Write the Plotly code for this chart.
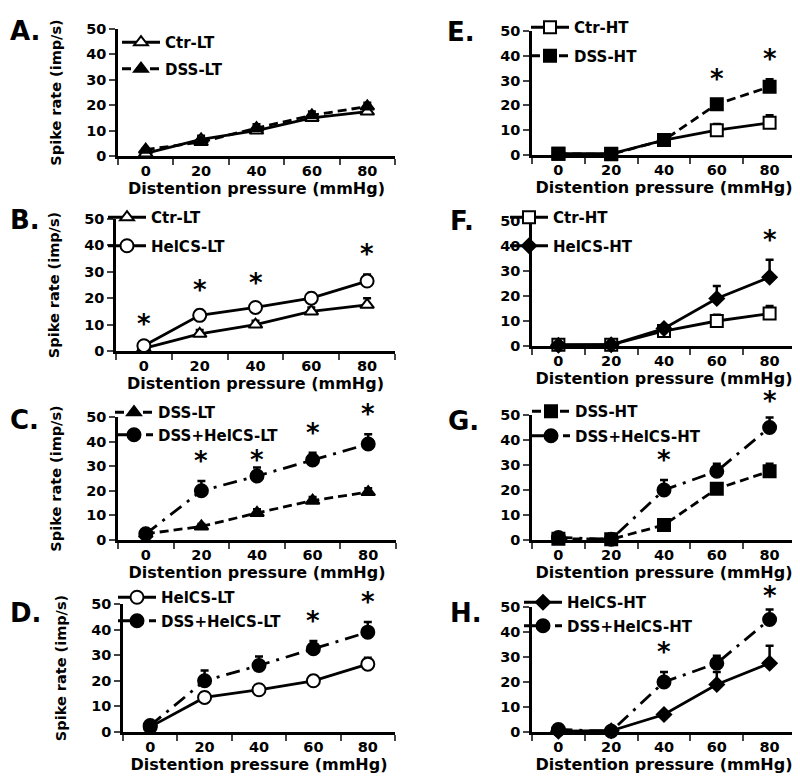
import plotly.graph_objects as go

# ---------------- data ----------------
pressure = ["0", "20", "40", "60", "80"]

ctr_lt = [1.0, 6.5, 10.0, 15.0, 17.5]
ctr_lt_err = [0.5, 1.5, 1.5, 1.5, 2.5]
dss_lt = [2.5, 5.5, 11.0, 16.0, 19.5]
dss_lt_err = [0.5, 1.0, 1.5, 1.5, 1.5]
helcs_lt = [2.0, 13.5, 16.5, 20.0, 26.5]
helcs_lt_err = [0.5, 2.0, 1.5, 2.0, 2.5]
dss_helcs_lt = [2.5, 20.0, 26.0, 32.5, 39.0]
dss_helcs_lt_err = [0.5, 4.0, 3.5, 3.0, 4.0]

ctr_ht = [0.5, 0.5, 6.0, 10.0, 13.0]
ctr_ht_err = [0.3, 0.3, 0.8, 2.5, 3.0]
dss_ht = [0.5, 0.3, 6.0, 20.5, 27.5]
dss_ht_err = [0.3, 0.3, 0.8, 2.0, 3.0]
helcs_ht = [0.3, 0.5, 7.0, 19.0, 27.5]
helcs_ht_err = [0.3, 0.3, 1.0, 5.0, 7.0]
dss_helcs_ht = [1.0, 0.3, 20.0, 27.5, 45.0]
dss_helcs_ht_err = [0.3, 0.3, 4.0, 3.0, 4.0]

y_ticks = [0, 10, 20, 30, 40, 50]

series = {
    "Ctr-LT": (ctr_lt, ctr_lt_err),
    "DSS-LT": (dss_lt, dss_lt_err),
    "HelCS-LT": (helcs_lt, helcs_lt_err),
    "DSS+HelCS-LT": (dss_helcs_lt, dss_helcs_lt_err),
    "Ctr-HT": (ctr_ht, ctr_ht_err),
    "DSS-HT": (dss_ht, dss_ht_err),
    "HelCS-HT": (helcs_ht, helcs_ht_err),
    "DSS+HelCS-HT": (dss_helcs_ht, dss_helcs_ht_err),
}

# panel: label, series pair, series carrying significance stars, star indices
panels = [
    ("A.", ["Ctr-LT", "DSS-LT"], None, []),
    ("B.", ["Ctr-LT", "HelCS-LT"], "HelCS-LT", [0, 1, 2, 4]),
    ("C.", ["DSS-LT", "DSS+HelCS-LT"], "DSS+HelCS-LT", [1, 2, 3, 4]),
    ("D.", ["HelCS-LT", "DSS+HelCS-LT"], "DSS+HelCS-LT", [3, 4]),
    ("E.", ["Ctr-HT", "DSS-HT"], "DSS-HT", [3, 4]),
    ("F.", ["Ctr-HT", "HelCS-HT"], "HelCS-HT", [4]),
    ("G.", ["DSS-HT", "DSS+HelCS-HT"], "DSS+HelCS-HT", [2, 4]),
    ("H.", ["HelCS-HT", "DSS+HelCS-HT"], "DSS+HelCS-HT", [2, 4]),
]

# ---------------- styling ----------------
W, H = 800, 780
FONT = "DejaVu Sans, Arial, sans-serif"

style = {
    "Ctr-LT": dict(symbol="triangle-up", fill="white", dash="solid", size=12),
    "DSS-LT": dict(symbol="triangle-up", fill="black", dash="9px,5px", size=12),
    "HelCS-LT": dict(symbol="circle", fill="white", dash="solid", size=13),
    "DSS+HelCS-LT": dict(symbol="circle", fill="black", dash="14px,7px,3px,7px", size=13),
    "Ctr-HT": dict(symbol="square", fill="white", dash="solid", size=12),
    "DSS-HT": dict(symbol="square", fill="black", dash="9px,5px", size=12),
    "HelCS-HT": dict(symbol="diamond", fill="black", dash="solid", size=11),
    "DSS+HelCS-HT": dict(symbol="circle", fill="black", dash="14px,7px,3px,7px", size=13),
}

# pixel geometry (axis left, axis right, y of 0, y of 50)
geom = [
    (110, 387, 148, 21),
    (108, 387, 343, 211),
    (110, 388, 532, 409),
    (115, 387, 724, 596),
    (524, 788, 147, 23),
    (524, 788, 338, 213),
    (524, 788, 532, 407),
    (524, 788, 724, 599),
]
# legend top-left (px), legend row gap, panel label position (px)
legend_pos = [
    (109, 18), (95, 193), (102, 388), (105, 573),
    (518, 3), (497, 193), (519, 387), (511, 578),
]
legend_gap = [4, 6, 0, 1, 6, 6, 2, 1]
label_pos = [
    (0, 23), (0, 212), (0, 412), (0, 605),
    (437, 24), (440, 213), (438, 413), (440, 605),
]
# vertical shift of individual stars (panel index, point index) -> px
star_shift = {(2, 2): -13, (6, 4): -3, (7, 4): -6}

fig = go.Figure()
layout = dict(
    width=W, height=H,
    margin=dict(l=0, r=0, t=0, b=0),
    paper_bgcolor="white", plot_bgcolor="white",
    font=dict(family=FONT, size=15, color="black"),
    annotations=[],
)

for i, (label, names, sig_name, sig_idx) in enumerate(panels):
    n = i + 1
    xa = "x" if n == 1 else f"x{n}"
    ya = "y" if n == 1 else f"y{n}"
    lg = "legend" if n == 1 else f"legend{n}"
    x0, x1, y0, y50 = geom[i]
    for name in names:
        vals, errs = series[name]
        st = style[name]
        fig.add_trace(go.Scatter(
            x=pressure, y=vals, name=name, xaxis=xa, yaxis=ya,
            mode="lines+markers", legend=lg, legendgroup=f"{n}-{name}",
            line=dict(color="black", width=2.8, dash=st["dash"]),
            marker=dict(symbol=st["symbol"], size=st["size"], color=st["fill"],
                        line=dict(color="black", width=2)),
            error_y=dict(type="data", array=errs, arrayminus=[0] * len(errs),
                         symmetric=False, color="black", thickness=2.5, width=4),
            cliponaxis=False,
        ))
    left = i < 4
    xkey = "xaxis" if n == 1 else f"xaxis{n}"
    ykey = "yaxis" if n == 1 else f"yaxis{n}"
    layout[xkey] = dict(
        domain=[x0 / W, x1 / W], anchor=ya, type="category",
        categoryorder="array", categoryarray=pressure,
        range=[-0.5, len(pressure) - 0.5], autorange=False,
        tickson="boundaries", ticks="outside", ticklen=6, tickwidth=2,
        showline=True, linewidth=2.5, linecolor="black", showgrid=False,
        zeroline=False, tickfont=dict(size=14.5, family=FONT, weight="bold"),
        title=dict(text="<b>Distention pressure (mmHg)</b>",
                   font=dict(size=16, family=FONT), standoff=2),
        fixedrange=True, automargin=False,
    )
    layout[ykey] = dict(
        domain=[1 - y0 / H, 1 - y50 / H], anchor=xa, range=[0, 50],
        autorange=False,
        tickvals=y_ticks, ticks="outside", ticklen=6, tickwidth=2,
        showline=True, linewidth=2.5, linecolor="black", showgrid=False,
        zeroline=False, tickfont=dict(size=14.5, family=FONT, weight="bold"),
        title=dict(text="<b>Spike rate (imp/s)</b>" if left else "",
                   font=dict(size=14.5, family=FONT), standoff=22),
        fixedrange=True, automargin=False,
    )
    lx, ly = legend_pos[i]
    layout[lg] = dict(
        x=lx / W, y=1 - ly / H, xanchor="left", yanchor="top",
        bgcolor="rgba(0,0,0,0)", font=dict(size=15, family=FONT, weight="bold"),
        itemwidth=38, traceorder="grouped", tracegroupgap=legend_gap[i],
        itemclick=False, itemdoubleclick=False,
    )
    px, py = label_pos[i]
    layout["annotations"].append(dict(
        text=f"<b>{label}</b>", x=px / W, y=1 - py / H, xref="paper", yref="paper",
        xanchor="left", yanchor="middle", showarrow=False,
        font=dict(size=26, family=FONT, color="black"),
    ))
    if sig_name:
        vals, errs = series[sig_name]
        for k in sig_idx:
            layout["annotations"].append(dict(
                text="<b>*</b>", x=k, y=vals[k] + errs[k],
                xref=xa, yref=ya, xanchor="center", yanchor="bottom",
                yshift=3 + star_shift.get((i, k), 0), showarrow=False,
                font=dict(size=26, family=FONT, color="black"),
            ))

fig.update_layout(**layout)
fig.write_html("out.html")
